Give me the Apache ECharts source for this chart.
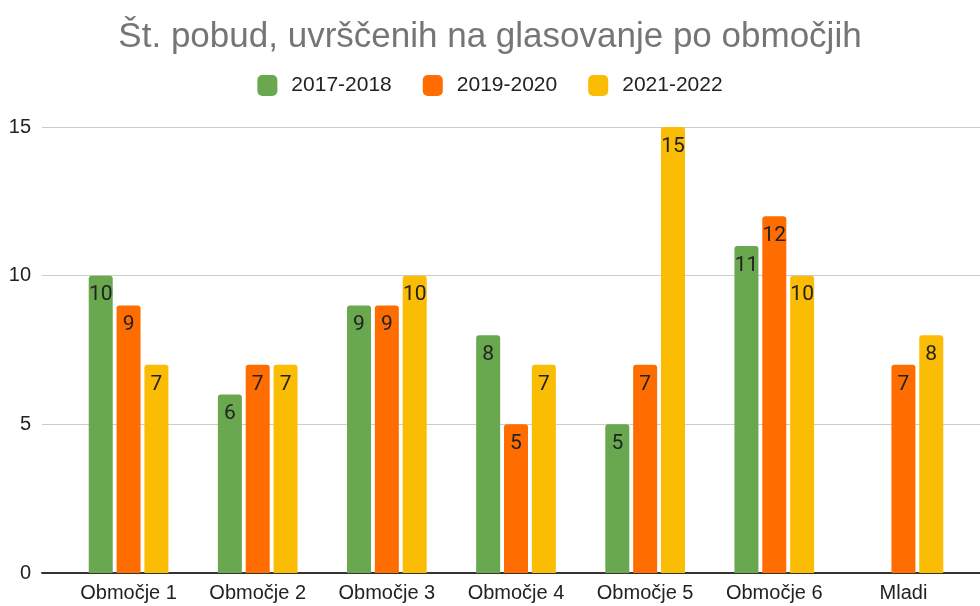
<!DOCTYPE html>
<html>
<head>
<meta charset="utf-8">
<script src="https://cdn.jsdelivr.net/npm/echarts@6/dist/echarts.min.js"></script>
<style>
  html, body { margin: 0; padding: 0; background: #fff; }
  #chart { width: 980px; height: 606px; }
</style>
</head>
<body>
<div id="chart"></div>
<script>
var categories = ['Območje 1', 'Območje 2', 'Območje 3', 'Območje 4', 'Območje 5', 'Območje 6', 'Mladi'];
var seriesNames = ['2017-2018', '2019-2020', '2021-2022'];
var data1718 = [10, 6, 9, 8, 5, 11, null];
var data1920 = [9, 7, 9, 5, 7, 12, 7];
var data2122 = [7, 7, 10, 7, 15, 10, 8];
var yTicks = [0, 5, 10, 15];
var colors = ['#6aa84f', '#ff6d01', '#fbbc04'];

var font = '"Liberation Sans", Arial, sans-serif';
var chartDom = document.getElementById('chart');
var myChart = echarts.init(chartDom);

function makeSeries(name, values, color) {
  return {
    name: name,
    type: 'bar',
    xAxisIndex: 1,
    yAxisIndex: 1,
    data: values,
    barWidth: 24,
    barGap: '16%',
    itemStyle: { color: color, borderRadius: [3, 3, 0, 0] },
    label: {
      show: true,
      position: 'insideTop',
      distance: 9,
      color: '#222',
      fontSize: 21,
      fontFamily: 'Roboto, sans-serif',
      textBorderColor: color,
      textBorderWidth: 2
    }
  };
}

var option = {
  animation: false,
  color: colors,
  title: {
    text: 'Št. pobud, uvrščenih na glasovanje po območjih',
    left: 'center',
    top: 15,
    textStyle: { color: '#757575', fontSize: 35, fontWeight: 'normal', fontFamily: font }
  },
  legend: {
    top: 70,
    left: 'center',
    itemWidth: 20,
    itemHeight: 21,
    itemGap: 31,
    icon: 'roundRect',
    textStyle: { color: '#222', fontSize: 21, fontFamily: font, padding: [0, 0, 0, 9] },
    data: seriesNames
  },
  grid: [
    { left: 42, right: 0, top: 127, bottom: 33 },
    { left: 64, right: 12, top: 127, bottom: 33 }
  ],
  xAxis: [
    {
      gridIndex: 0, type: 'category', data: [''],
      axisLine: { lineStyle: { color: '#333', width: 2 } },
      axisTick: { show: false }, axisLabel: { show: false }
    },
    {
      gridIndex: 1, type: 'category', data: categories,
      axisLine: { show: false }, axisTick: { show: false },
      axisLabel: { color: '#222', fontSize: 20, fontFamily: font, margin: 10, interval: 0 }
    }
  ],
  yAxis: [
    {
      gridIndex: 0, type: 'value', min: yTicks[0], max: yTicks[yTicks.length - 1], interval: 5,
      axisLabel: { color: '#222', fontSize: 20, fontFamily: font, margin: 11 },
      splitLine: { lineStyle: { color: '#cccccc' } },
      axisLine: { show: false }, axisTick: { show: false }
    },
    {
      gridIndex: 1, type: 'value', min: yTicks[0], max: yTicks[yTicks.length - 1], interval: 5,
      show: false, splitLine: { show: false }
    }
  ],
  series: [
    makeSeries(seriesNames[0], data1718, colors[0]),
    makeSeries(seriesNames[1], data1920, colors[1]),
    makeSeries(seriesNames[2], data2122, colors[2])
  ]
};

if (option && typeof option === 'object') {
  myChart.setOption(option);
}
window.addEventListener('resize', myChart.resize);
</script>
</body>
</html>
